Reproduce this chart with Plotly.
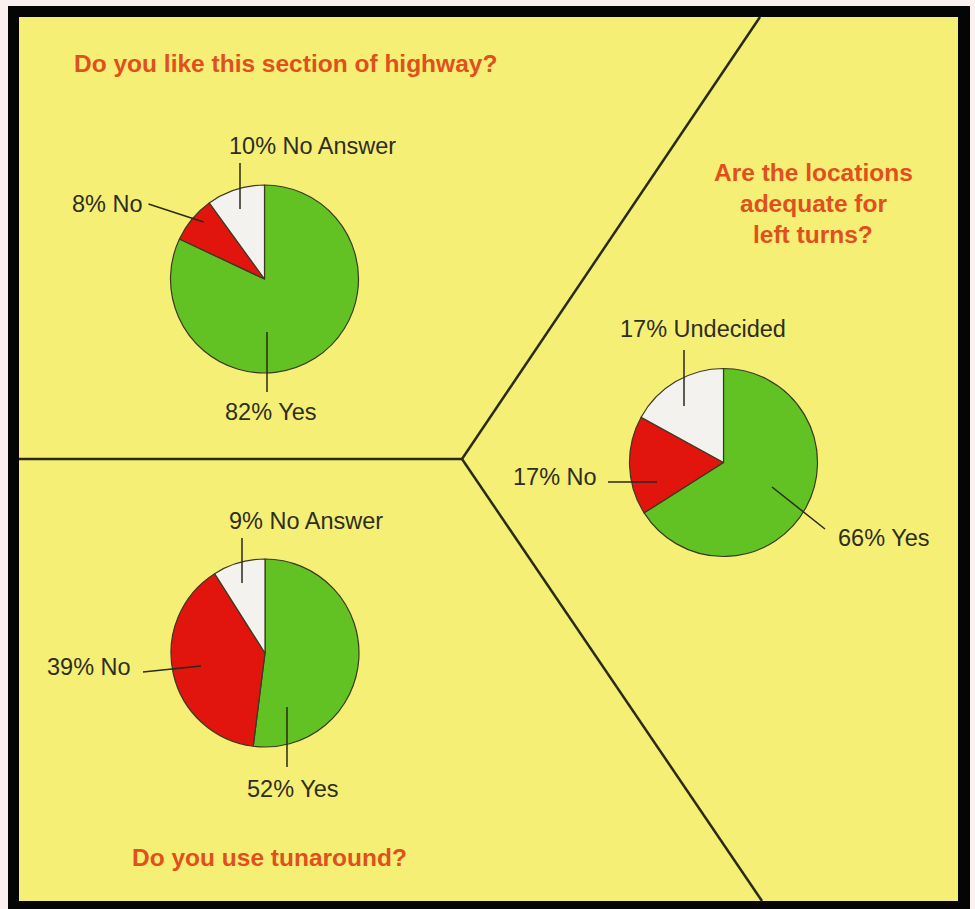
import plotly.graph_objects as go

W, H = 975, 909

# ---------------- data ----------------
q1_title = "Do you like this section of highway?"
q1_labels = ["Yes", "No", "No Answer"]
q1_values = [82, 8, 10]

q2_title_lines = ["Are the locations", "adequate for", "left turns?"]
q2_labels = ["Yes", "No", "Undecided"]
q2_values = [66, 17, 17]

q3_title = "Do you use tunaround?"
q3_labels = ["Yes", "No", "No Answer"]
q3_values = [52, 39, 9]

# ---------------- style ----------------
BG_OUT = "#fbf0f0"
FRAME = "#050505"
YELLOW = "#f6ef76"
GREEN = "#62c224"
RED = "#e2140e"
WHITE = "#f4f2ee"
TITLE_C = "#e0501c"
TEXT_C = "#2e2e1e"
LINE_C = "#2a2a16"
slice_colors = {"Yes": GREEN, "No": RED, "No Answer": WHITE, "Undecided": WHITE}

LABEL_FONT = dict(family="Liberation Sans, Arial, sans-serif", size=23.5, color=TEXT_C)
TITLE_FONT = dict(family="Liberation Sans, Arial, sans-serif", size=24.5, color=TITLE_C, weight="bold")


def fx(x):
    return x / W


def fy(y):
    return 1 - y / H


# pie layout: centre (px) and radius (px)
pies = [
    dict(labels=q1_labels, values=q1_values, c=(264.5, 279), r=94),
    dict(labels=q2_labels, values=q2_values, c=(723.5, 462.5), r=94),
    dict(labels=q3_labels, values=q3_values, c=(265, 653), r=94),
]

# label placement per slice, relative to pie centre (px):
# (text offset x, text offset y, xanchor, leader x0, y0, x1, y1)
placements = [
    {
        "No Answer": (47.5, -133, "center", -24.5, -116, -24.5, -70),
        "No": (-119.5, -75, "right", -116, -75, -61, -57),
        "Yes": (5.5, 133, "center", 2.5, 53, 2.5, 113),
    },
    {
        "Undecided": (-21, -133.5, "center", -39.5, -112.5, -39.5, -56.5),
        "No": (-124.5, 14.5, "right", -115.5, 19.5, -66.5, 19.5),
        "Yes": (112.5, 75.5, "left", 48.5, 24.5, 101.5, 66.5),
    },
    {
        "No Answer": (41, -132, "center", -23, -115, -23, -70),
        "No": (-132, 14, "right", -122, 19, -64, 13),
        "Yes": (27.5, 136, "center", 22, 54, 22, 114),
    },
]

fig = go.Figure()
annotations = []
shapes = []

# frame and background
shapes.append(dict(type="rect", xref="paper", yref="paper", x0=fx(8), x1=fx(970), y0=fy(909), y1=fy(6),
                   fillcolor=FRAME, line=dict(width=0), layer="below"))
shapes.append(dict(type="rect", xref="paper", yref="paper", x0=fx(19), x1=fx(958), y0=fy(901), y1=fy(17),
                   fillcolor=YELLOW, line=dict(width=0), layer="below"))

# dividing lines
vx, vy = 462, 459
for (x0, y0, x1, y1) in [(19, vy, vx, vy), (760, 17, vx, vy), (vx, vy, 762, 901)]:
    shapes.append(dict(type="line", xref="paper", yref="paper", x0=fx(x0), y0=fy(y0), x1=fx(x1), y1=fy(y1),
                       line=dict(color=LINE_C, width=2.5), layer="below"))

for p, place in zip(pies, placements):
    cx, cy = p["c"]
    r = p["r"]
    fig.add_trace(go.Pie(
        labels=p["labels"], values=p["values"], sort=False, direction="clockwise", rotation=0,
        marker=dict(colors=[slice_colors[l] for l in p["labels"]], line=dict(color="#3a3a20", width=1.2)),
        textinfo="none", hoverinfo="skip", showlegend=False,
        domain=dict(x=[fx(cx - r), fx(cx + r)], y=[fy(cy + r), fy(cy - r)]),
    ))
    total = sum(p["values"])
    for lab, val in zip(p["labels"], p["values"]):
        tx, ty, xa, lx0, ly0, lx1, ly1 = place[lab]
        pct = round(100 * val / total)
        annotations.append(dict(
            text=f"{pct}% {lab}", xref="paper", yref="paper", x=fx(cx + tx), y=fy(cy + ty),
            xanchor=xa, yanchor="middle", showarrow=False, font=LABEL_FONT,
        ))
        shapes.append(dict(type="line", xref="paper", yref="paper",
                           x0=fx(cx + lx0), y0=fy(cy + ly0), x1=fx(cx + lx1), y1=fy(cy + ly1),
                           line=dict(color=LINE_C, width=1.5)))

# titles
annotations.append(dict(text=q1_title, xref="paper", yref="paper", x=fx(72), y=fy(63),
                        xanchor="left", yanchor="middle", showarrow=False, font=TITLE_FONT))
for line, yy in zip(q2_title_lines, [172, 203.5, 235]):
    annotations.append(dict(text=line, xref="paper", yref="paper", x=fx(813), y=fy(yy),
                            xanchor="center", yanchor="middle", showarrow=False, font=TITLE_FONT))
annotations.append(dict(text=q3_title, xref="paper", yref="paper", x=fx(130), y=fy(857),
                        xanchor="left", yanchor="middle", showarrow=False, font=TITLE_FONT))

fig.update_layout(
    width=W, height=H, margin=dict(l=0, r=0, t=0, b=0),
    paper_bgcolor=BG_OUT, plot_bgcolor=BG_OUT,
    shapes=shapes, annotations=annotations,
)

fig.write_html("out.html")
